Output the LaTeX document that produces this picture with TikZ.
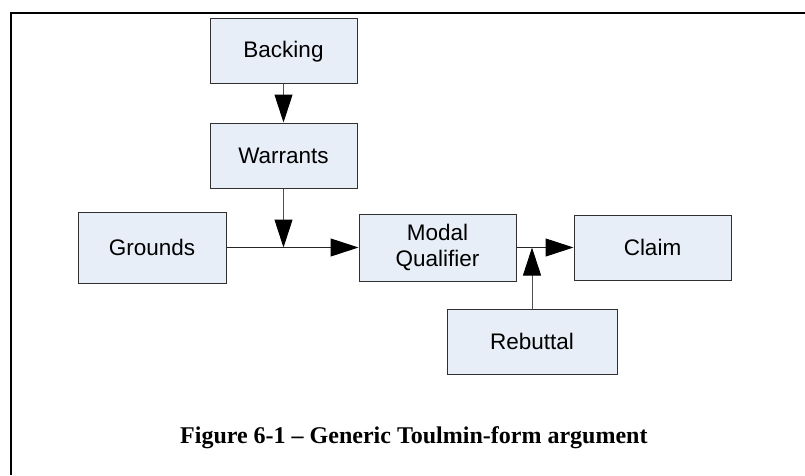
\documentclass[tikz,border=0pt]{standalone}
\usepackage{fontspec}
\setmainfont{Liberation Serif}
\newfontfamily\boxfont{Liberation Sans}
\usetikzlibrary{arrows.meta}
\definecolor{boxfill}{HTML}{E8EEF7}
\definecolor{boxline}{HTML}{303030}
\definecolor{conline}{HTML}{505050}
\tikzset{
  tbox/.style={draw=boxline, line width=1pt, fill=boxfill, inner sep=0pt,
    align=center, font=\boxfont\fontsize{22.5}{26.5}\selectfont},
  conn/.style={draw=conline, line width=1pt, -{Triangle[length=28pt,width=18pt,color=black]}},
  frameline/.style={line width=2pt, black}
}
\begin{document}
\begin{tikzpicture}[x=1pt,y=1pt]
\useasboundingbox (0,0) rectangle (805,475);
\coordinate (ftop) at (805,462);
\coordinate (fcorner) at (11,462);
\coordinate (fbot) at (11,0);
\draw[frameline] (ftop) -- (fcorner) -- (fbot);
\node[tbox, minimum width=147pt, minimum height=65pt] (backing) at (283.5,423.5) {Backing};
\node[tbox, minimum width=147pt, minimum height=65pt] (warrants) at (283.5,319.5) {Warrants};
\node[tbox, minimum width=148pt, minimum height=71pt] (grounds) at (152,227.5) {Grounds};
\node[tbox, minimum width=157pt, minimum height=67pt] (modal) at (437.5,227.5) {Modal\\Qualifier};
\node[tbox, minimum width=157pt, minimum height=65pt] (claim) at (652.5,227.5) {Claim};
\node[tbox, minimum width=170pt, minimum height=65pt] (rebuttal) at (532,133.5) {Rebuttal};
\coordinate (jw) at (warrants.south |- grounds.east);
\coordinate (jr) at (rebuttal.north |- modal.east);
\draw[conn] (backing) -- (warrants);
\draw[conn] (warrants) -- (jw);
\draw[conn, draw=black!85] (grounds) -- (modal);
\draw[conn, draw=black!85] (modal) -- (claim);
\draw[conn] (rebuttal) -- (jr);
\node[anchor=base west, inner sep=0pt, font=\bfseries\fontsize{24}{28}\selectfont] (caption) at (180,32) {Figure 6-1 – Generic Toulmin-form argument};
\end{tikzpicture}
\end{document}
